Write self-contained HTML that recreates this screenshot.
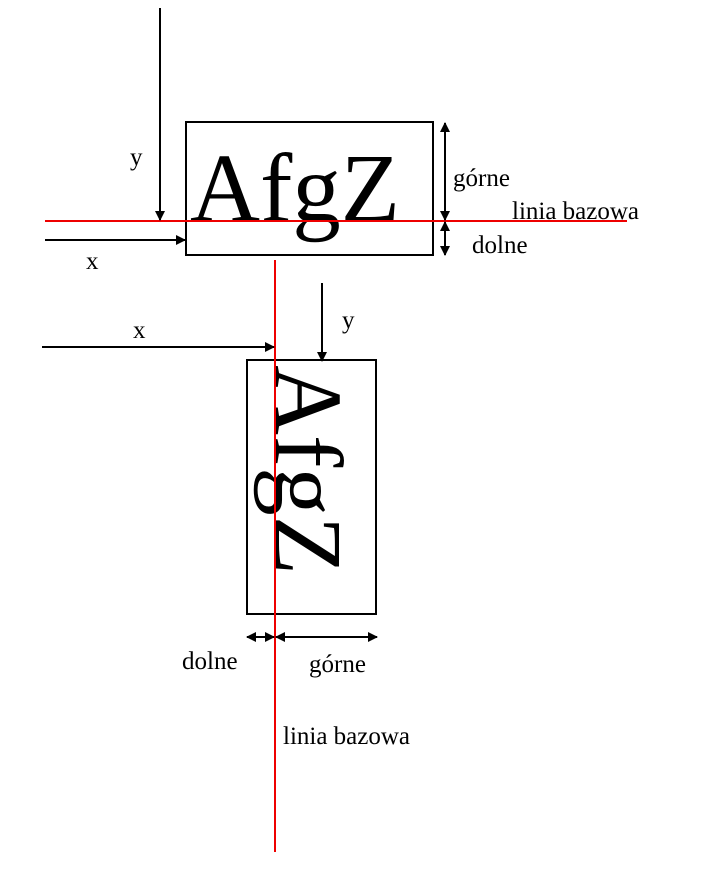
<!DOCTYPE html>
<html><head><meta charset="utf-8"><style>
html,body{margin:0;padding:0;background:#fff;}
svg{display:block;font-family:"Liberation Serif",serif;}
</style></head><body>
<svg width="710" height="890" viewBox="0 0 710 890">
<defs>
<marker id="ah" markerWidth="10" markerHeight="10" refX="9" refY="5" orient="auto-start-reverse" markerUnits="userSpaceOnUse">
<path d="M0,0 L10,5 L0,10 z" fill="#000"/>
</marker>
</defs>
<g>
<rect x="186" y="122" width="247" height="133" fill="none" stroke="#000" stroke-width="2"/>
<text x="190" y="221" font-size="98" textLength="210" lengthAdjust="spacingAndGlyphs">AfgZ</text>
<line x1="45" y1="221" x2="627" y2="221" stroke="#e00" stroke-width="2"/>
<line x1="160" y1="8" x2="160" y2="220" stroke="#000" stroke-width="2" marker-end="url(#ah)"/>
<text x="130" y="165" font-size="25">y</text>
<line x1="45" y1="240" x2="185" y2="240" stroke="#000" stroke-width="2" marker-end="url(#ah)"/>
<text x="86" y="269" font-size="25">x</text>
<line x1="445" y1="123" x2="445" y2="220" stroke="#000" stroke-width="2" marker-start="url(#ah)" marker-end="url(#ah)"/>
<line x1="445" y1="222" x2="445" y2="255" stroke="#000" stroke-width="2" marker-start="url(#ah)" marker-end="url(#ah)"/>
<text x="453" y="186" font-size="25">górne</text>
<text x="472" y="253" font-size="25">dolne</text>
<text x="512" y="219" font-size="25">linia bazowa</text>
</g>
<g>
<rect x="247" y="360" width="129" height="254" fill="none" stroke="#000" stroke-width="2"/>
<text transform="translate(275,365) rotate(90)" x="0" y="0" font-size="98" textLength="210" lengthAdjust="spacingAndGlyphs">AfgZ</text>
<line x1="275" y1="260" x2="275" y2="852" stroke="#e00" stroke-width="2"/>
<line x1="42" y1="347" x2="274" y2="347" stroke="#000" stroke-width="2" marker-end="url(#ah)"/>
<text x="133" y="338" font-size="25">x</text>
<line x1="322" y1="283" x2="322" y2="361" stroke="#000" stroke-width="2" marker-end="url(#ah)"/>
<text x="342" y="328" font-size="25">y</text>
<line x1="247" y1="637" x2="274" y2="637" stroke="#000" stroke-width="2" marker-start="url(#ah)" marker-end="url(#ah)"/>
<line x1="276" y1="637" x2="377" y2="637" stroke="#000" stroke-width="2" marker-start="url(#ah)" marker-end="url(#ah)"/>
<text x="182" y="669" font-size="25">dolne</text>
<text x="309" y="672" font-size="25">górne</text>
<text x="283" y="744" font-size="25">linia bazowa</text>
</g>
</svg>
</body></html>
